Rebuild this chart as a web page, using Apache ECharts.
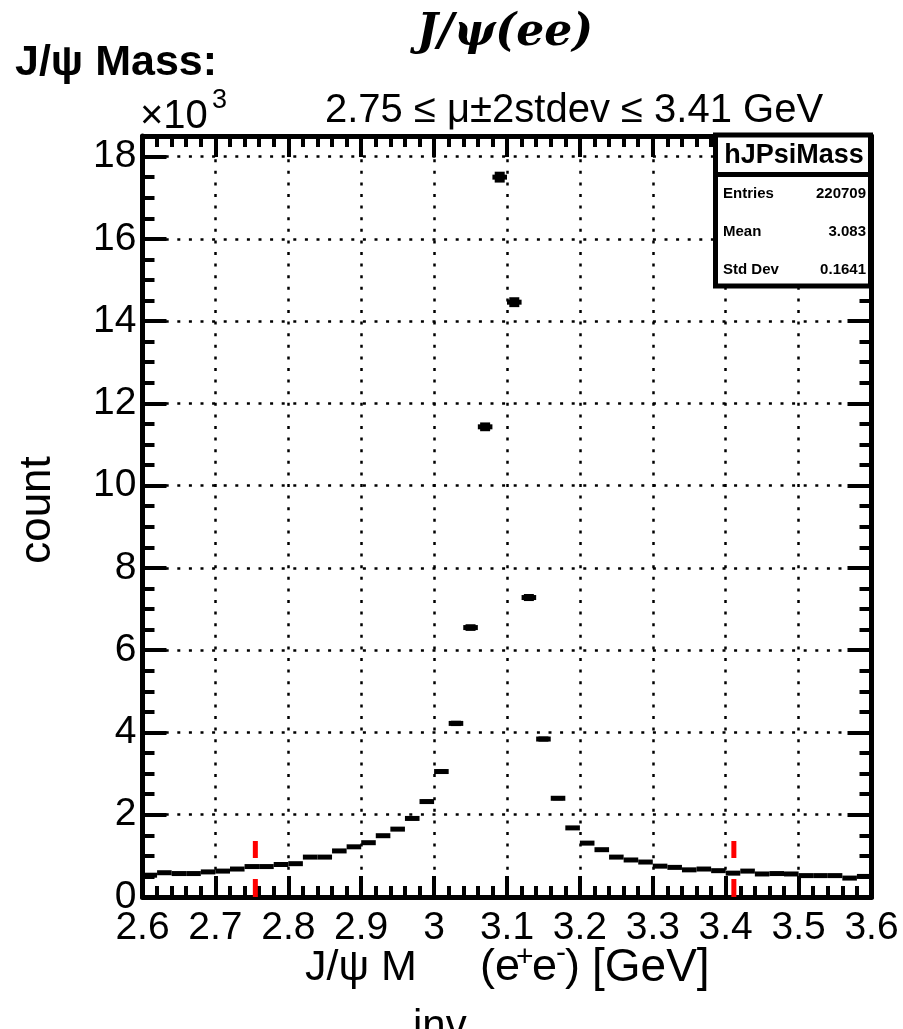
<!DOCTYPE html>
<html>
<head>
<meta charset="utf-8">
<script src="https://cdn.jsdelivr.net/npm/echarts@6/dist/echarts.min.js"></script>
<style>
html,body{margin:0;padding:0;background:#fff;}
#chart{width:903px;height:1029px;}
</style>
</head>
<body>
<div id="chart"></div>
<script>
// ---- data ----
const binCenters = [2.61,2.63,2.65,2.67,2.69,2.71,2.73,2.75,2.77,2.79,
                    2.81,2.83,2.85,2.87,2.89,2.91,2.93,2.95,2.97,2.99,
                    3.01,3.03,3.05,3.07,3.09,3.11,3.13,3.15,3.17,3.19,
                    3.21,3.23,3.25,3.27,3.29,3.31,3.33,3.35,3.37,3.39,
                    3.41,3.43,3.45,3.47,3.49,3.51,3.53,3.55,3.57,3.59];
const counts = [530,590,570,570,610,630,680,740,740,790,
                810,970,970,1120,1220,1320,1490,1650,1910,2320,
                3050,4220,6550,11430,17500,14460,7280,3840,2400,1680,
                1310,1150,970,900,850,750,720,660,680,640,
                580,630,560,570,560,520,520,520,460,500];
const cutValues = [2.7548, 3.4112];
const cutLineHeight = [0, 1360];
const xTickValues = [2.6,2.7,2.8,2.9,3.0,3.1,3.2,3.3,3.4,3.5,3.6];
const yTickValues = [0,2000,4000,6000,8000,10000,12000,14000,16000,18000];
const statsLabels = ['Entries','Mean','Std Dev'];
const statsValues = ['220709','3.083','0.1641'];

const FONT = '"Liberation Sans", Arial, Helvetica, sans-serif';
const binWidth = binCenters[1] - binCenters[0];

const chart = echarts.init(document.getElementById('chart'), null, {renderer:'canvas'});

const tickStyle = {color:'#000', width:4};
const dotted = {color:'#000', width:2.5, type:[3,8.6]};

const xMin = xTickValues[0], xMax = xTickValues[xTickValues.length-1];
const yMin = yTickValues[0], yMax = 18500;

function xAxisCfg(pos, main){
  return {
    type:'value', position:pos, min:xMin, max:xMax, interval:0.1,
    axisLine:{show:true, onZero:false, lineStyle:{color:'#000', width:5}},
    axisTick:{show:true, inside:true, length:21, lineStyle:tickStyle},
    minorTick:{show:true, splitNumber:5, length:11, lineStyle:tickStyle},
    axisLabel:{show:main, margin:12, color:'#000', fontSize:39, fontFamily:FONT,
      formatter:v=>String(parseFloat((+v).toFixed(1)))},
    splitLine:{show:main, lineStyle:dotted}
  };
}
function yAxisCfg(pos, major){
  return {
    type:'value', position:pos, min:yMin, max:yMax, interval: major?2000:500,
    axisLine:{show:major, onZero:false, lineStyle:{color:'#000', width:5}},
    axisTick:{show:true, inside:true, length: major?24:12, lineStyle:tickStyle},
    axisLabel:{show: major && pos==='left', margin:6, color:'#000', fontSize:39, fontFamily:FONT,
      showMaxLabel:false,
      formatter:v=> (v % 2000 === 0 ? String(v/1000) : '')},
    splitLine:{show: major && pos==='left', lineStyle:dotted}
  };
}

const option = {
  animation:false,
  backgroundColor:'#fff',
  grid:{left:142.5, top:136, width:729, height:761, containLabel:false},
  xAxis:[xAxisCfg('bottom', true), xAxisCfg('top', false)],
  yAxis:[yAxisCfg('left', true), yAxisCfg('left', false), yAxisCfg('right', true), yAxisCfg('right', false)],
  series:[
    {
      type:'custom', xAxisIndex:0, yAxisIndex:0, z:4, clip:false,
      data: binCenters.map((c,i)=>[c, counts[i]]),
      renderItem:(params, api)=>{
        const x = api.value(0), y = api.value(1);
        const l = api.coord([x - binWidth/2, y]);
        const r = api.coord([x + binWidth/2, y]);
        const e = Math.sqrt(y);
        const t = api.coord([x, y + e]);
        const b = api.coord([x, y - e]);
        const h = 5;
        return {type:'group', children:[
          {type:'rect', shape:{x:l[0], y:l[1]-h/2, width:r[0]-l[0], height:h}, style:{fill:'#000'}},
          {type:'rect', shape:{x:t[0]-5, y:t[1], width:10, height:b[1]-t[1]}, style:{fill:'#000'}}
        ]};
      }
    },
    ...cutValues.map(cv=>({
      type:'line', xAxisIndex:0, yAxisIndex:0, z:6, clip:false, symbol:'none', silent:true,
      data: cutLineHeight.map(h=>[cv, h]),
      lineStyle:{color:'#ff0000', width:5, type:[18,21], cap:'butt'}
    }))
  ],
  graphic:[
    {type:'text', x:505, y:34, z:10, style:{text:'J/ψ(ee)', font:'italic bold 44px "DejaVu Serif", serif', fill:'#000', align:'center', verticalAlign:'middle'}},
    {type:'text', x:15, y:63, z:10, style:{text:'J/ψ Mass:', font:'bold 43px '+FONT, fill:'#000', align:'left', verticalAlign:'middle'}},
    {type:'text', x:140, y:117, z:10, style:{text:'×10', font:'40px '+FONT, fill:'#000', align:'left', verticalAlign:'middle'}},
    {type:'text', x:212, y:101, z:10, style:{text:'3', font:'27px '+FONT, fill:'#000', align:'left', verticalAlign:'middle'}},
    {type:'text', x:325, y:111, z:10, style:{text:'2.75 ≤ μ±2stdev ≤ 3.41 GeV', font:'40px '+FONT, fill:'#000', align:'left', verticalAlign:'middle'}},
    {type:'text', x:38, y:510, rotation:Math.PI/2, z:10, style:{text:'count', font:'44px '+FONT, fill:'#000', align:'center', verticalAlign:'middle'}},
    // x-axis title pieces
    {type:'text', x:305, y:968, z:10, style:{text:'J/ψ M', font:'43px '+FONT, fill:'#000', align:'left', verticalAlign:'middle'}},
    {type:'text', x:413, y:1027, z:10, style:{text:'inv', font:'42px '+FONT, fill:'#000', align:'left', verticalAlign:'middle'}},
    {type:'text', x:480, y:968, z:10, style:{text:'(e', font:'45px '+FONT, fill:'#000', align:'left', verticalAlign:'middle'}},
    {type:'text', x:516, y:958, z:10, style:{text:'+', font:'30px '+FONT, fill:'#000', align:'left', verticalAlign:'middle'}},
    {type:'text', x:532, y:968, z:10, style:{text:'e', font:'45px '+FONT, fill:'#000', align:'left', verticalAlign:'middle'}},
    {type:'text', x:556, y:954, z:10, style:{text:'-', font:'30px '+FONT, fill:'#000', align:'left', verticalAlign:'middle'}},
    {type:'text', x:565, y:968, z:10, style:{text:')', font:'45px '+FONT, fill:'#000', align:'left', verticalAlign:'middle'}},
    {type:'text', x:592, y:968, z:10, style:{text:'[GeV]', font:'46px '+FONT, fill:'#000', align:'left', verticalAlign:'middle'}},
    // stats box
    {type:'rect', z:20, shape:{x:715.5, y:135, width:155, height:151}, style:{fill:'#fff', stroke:'#000', lineWidth:5}},
    {type:'line', z:21, shape:{x1:718, y1:174.5, x2:870, y2:174.5}, style:{stroke:'#000', lineWidth:5}},
    {type:'text', x:794, y:156, z:22, style:{text:'hJPsiMass', font:'bold 27px '+FONT, fill:'#000', align:'center', verticalAlign:'middle'}},
    ...statsLabels.map((s,i)=>({type:'text', x:723, y:194 + i*38, z:22, style:{text:s, font:'bold 15px '+FONT, fill:'#000', align:'left', verticalAlign:'middle'}})),
    ...statsValues.map((s,i)=>({type:'text', x:866, y:194 + i*38, z:22, style:{text:s, font:'bold 15px '+FONT, fill:'#000', align:'right', verticalAlign:'middle'}}))
  ]
};
chart.setOption(option);
</script>
</body>
</html>
